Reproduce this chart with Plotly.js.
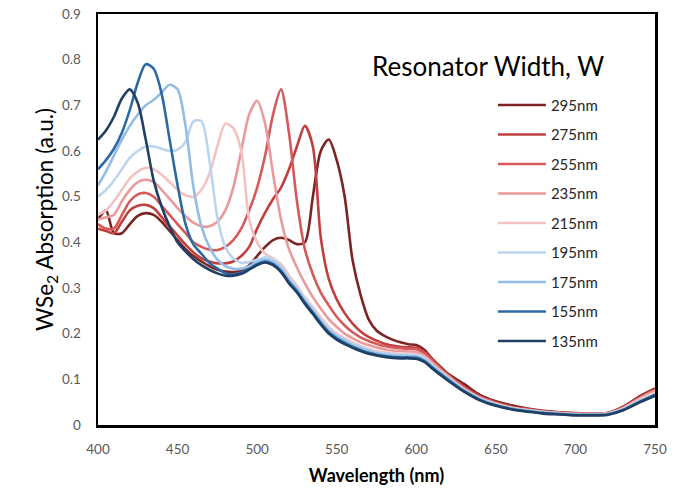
<!DOCTYPE html>
<html>
<head>
<meta charset="utf-8">
<script src="https://cdn.plot.ly/plotly-3.0.1.min.js"></script>
<style>html,body{margin:0;padding:0;background:#fff;}#chart{width:680px;height:497px;}</style>
</head>
<body>
<div id="chart"></div>
<script>
// Wavelength grid (nm)
const wavelength = [400,405,410,415,420,425,430,435,440,445,450,455,460,465,470,475,480,485,490,495,500,505,510,515,520,525,530,535,540,545,550,555,560,565,570,575,580,585,590,595,600,605,610,615,620,630,640,650,660,670,680,690,700,710,720,730,740,750];

// Series names (resonator widths)
const widths = ["295nm","275nm","255nm","235nm","215nm","195nm","175nm","155nm","135nm"];

// Absorption values for each resonator width
const abs295 = [0.45,0.47,0.42,0.42,0.44,0.458,0.464,0.46,0.445,0.425,0.405,0.385,0.37,0.358,0.348,0.34,0.336,0.335,0.338,0.35,0.37,0.39,0.405,0.41,0.405,0.396,0.40,0.50,0.60,0.625,0.58,0.50,0.36,0.285,0.232,0.207,0.195,0.187,0.181,0.177,0.175,0.165,0.145,0.128,0.112,0.09,0.066,0.052,0.043,0.036,0.031,0.028,0.026,0.025,0.026,0.04,0.062,0.08];
const abs275 = [0.43,0.425,0.42,0.445,0.47,0.48,0.482,0.475,0.455,0.435,0.415,0.395,0.378,0.365,0.358,0.354,0.354,0.358,0.37,0.39,0.43,0.465,0.495,0.52,0.56,0.61,0.655,0.61,0.41,0.32,0.275,0.245,0.222,0.205,0.193,0.185,0.178,0.174,0.171,0.17,0.169,0.16,0.144,0.126,0.11,0.084,0.063,0.05,0.04,0.035,0.03,0.027,0.025,0.025,0.026,0.039,0.06,0.079];
const abs255 = [0.44,0.43,0.43,0.46,0.49,0.505,0.508,0.50,0.48,0.46,0.44,0.42,0.40,0.39,0.384,0.383,0.39,0.405,0.43,0.47,0.52,0.59,0.68,0.735,0.64,0.49,0.385,0.33,0.29,0.262,0.237,0.218,0.203,0.192,0.184,0.178,0.173,0.17,0.168,0.167,0.166,0.157,0.141,0.124,0.109,0.082,0.061,0.048,0.039,0.034,0.03,0.027,0.025,0.025,0.026,0.038,0.059,0.077];
const abs235 = [0.45,0.455,0.46,0.49,0.515,0.532,0.537,0.532,0.515,0.495,0.475,0.457,0.443,0.435,0.435,0.445,0.47,0.52,0.60,0.68,0.71,0.66,0.55,0.45,0.385,0.345,0.31,0.28,0.255,0.232,0.215,0.20,0.19,0.181,0.175,0.17,0.166,0.163,0.162,0.161,0.16,0.152,0.137,0.121,0.107,0.08,0.06,0.047,0.038,0.033,0.029,0.026,0.024,0.024,0.025,0.037,0.057,0.075];
const abs215 = [0.46,0.47,0.49,0.515,0.54,0.555,0.563,0.56,0.548,0.532,0.515,0.503,0.50,0.515,0.55,0.61,0.66,0.65,0.60,0.45,0.40,0.375,0.365,0.352,0.328,0.305,0.28,0.258,0.235,0.215,0.20,0.19,0.181,0.173,0.167,0.162,0.159,0.157,0.156,0.156,0.155,0.148,0.133,0.118,0.104,0.078,0.058,0.046,0.037,0.032,0.028,0.026,0.024,0.024,0.025,0.036,0.055,0.072];
const abs195 = [0.50,0.515,0.535,0.56,0.585,0.60,0.61,0.61,0.605,0.60,0.603,0.62,0.665,0.665,0.58,0.455,0.39,0.365,0.355,0.357,0.362,0.367,0.362,0.347,0.322,0.30,0.276,0.254,0.23,0.21,0.197,0.187,0.178,0.171,0.165,0.16,0.157,0.155,0.154,0.154,0.153,0.146,0.131,0.117,0.103,0.077,0.058,0.045,0.037,0.032,0.028,0.025,0.023,0.023,0.024,0.035,0.052,0.068];
const abs175 = [0.525,0.555,0.59,0.625,0.655,0.68,0.70,0.712,0.728,0.745,0.735,0.655,0.52,0.435,0.39,0.362,0.348,0.342,0.342,0.348,0.357,0.362,0.357,0.342,0.318,0.297,0.272,0.25,0.227,0.207,0.194,0.184,0.175,0.168,0.162,0.157,0.154,0.152,0.151,0.151,0.15,0.143,0.129,0.115,0.101,0.076,0.057,0.044,0.036,0.031,0.027,0.025,0.023,0.023,0.024,0.034,0.051,0.067];
const abs155 = [0.56,0.58,0.605,0.64,0.69,0.75,0.79,0.78,0.725,0.625,0.525,0.44,0.395,0.375,0.355,0.343,0.332,0.33,0.334,0.342,0.352,0.358,0.352,0.337,0.313,0.293,0.268,0.246,0.223,0.203,0.19,0.18,0.171,0.164,0.158,0.154,0.151,0.149,0.148,0.148,0.147,0.14,0.126,0.112,0.099,0.074,0.055,0.043,0.035,0.03,0.026,0.024,0.022,0.022,0.023,0.033,0.05,0.066];
const abs135 = [0.625,0.645,0.675,0.715,0.735,0.705,0.625,0.535,0.478,0.435,0.40,0.38,0.363,0.35,0.34,0.332,0.327,0.327,0.331,0.34,0.35,0.356,0.35,0.335,0.31,0.29,0.265,0.243,0.22,0.20,0.187,0.177,0.169,0.162,0.156,0.152,0.149,0.147,0.146,0.146,0.145,0.138,0.124,0.11,0.097,0.073,0.054,0.042,0.034,0.029,0.025,0.023,0.021,0.021,0.022,0.032,0.049,0.064];

const series = [abs295,abs275,abs255,abs235,abs215,abs195,abs175,abs155,abs135];
const colors = ["#7d2424","#c0403f","#d65a5a","#e99b9b","#f3c3c3","#bcd5ee","#93bde4","#2d6aa3","#1f3f63"];

const xTicks = [400,450,500,550,600,650,700,750];
const yTicks = [0,0.1,0.2,0.3,0.4,0.5,0.6,0.7,0.8,0.9];

const traces = series.map((vals, i) => ({
  x: wavelength,
  y: vals,
  name: widths[i],
  type: 'scatter',
  mode: 'lines',
  line: {color: colors[i], width: 2.6, shape: 'spline', smoothing: 0.8},
  legendgroup: 'g' + i
}));

const font = "Lato, 'Open Sans', sans-serif";

const layout = {
  width: 680,
  height: 497,
  margin: {l: 98, r: 25, t: 14, b: 72},
  paper_bgcolor: '#ffffff',
  plot_bgcolor: '#ffffff',
  font: {family: font, color: '#000'},
  showlegend: true,
  legend: {
    x: 0.709, xanchor: 'left',
    y: 0.818, yanchor: 'top',
    bgcolor: 'rgba(0,0,0,0)',
    font: {family: font, size: 15, color: '#262626'},
    traceorder: 'grouped',
    tracegroupgap: 7,
    itemwidth: 48
  },
  xaxis: {
    range: [400, 750],
    tickvals: xTicks,
    ticktext: xTicks.map(String),
    showgrid: false,
    zeroline: false,
    showline: true,
    linecolor: '#000',
    linewidth: 2.5,
    mirror: true,
    ticks: '',
    ticklabelstandoff: 10,
    tickfont: {family: font, size: 13.5, color: '#595959'},
    title: {text: '<b>Wavelength (nm)</b>', font: {family: font, size: 18, color: '#000'}, standoff: 14}
  },
  yaxis: {
    range: [0, 0.9],
    tickvals: yTicks,
    ticktext: yTicks.map(String),
    showgrid: false,
    zeroline: false,
    showline: true,
    linecolor: '#000',
    linewidth: 2.5,
    mirror: true,
    ticks: '',
    ticklabelstandoff: 12,
    tickfont: {family: font, size: 13.5, color: '#595959'},
    title: {text: 'WSe<sub>2</sub> Absorption (a.u.)', font: {family: font, size: 22.5, color: '#000'}, standoff: 2}
  },
  annotations: [{
    xref: 'paper', yref: 'paper',
    x: 0.488, y: 0.874, xanchor: 'left', yanchor: 'middle',
    text: 'Resonator Width, W',
    showarrow: false,
    font: {family: font, size: 26, color: '#000'}
  }]
};

Plotly.newPlot('chart', traces, layout, {displayModeBar: false, staticPlot: true});
</script>
</body>
</html>
